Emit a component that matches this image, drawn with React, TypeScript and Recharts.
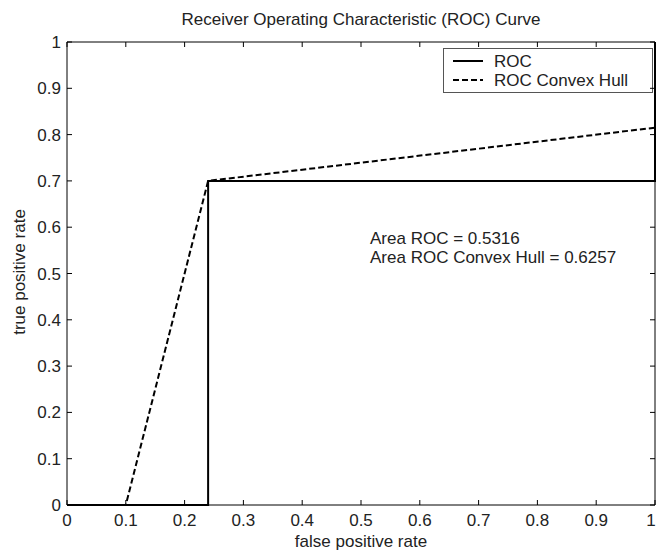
import React from 'react';
import { LineChart, Line, XAxis, YAxis, ReferenceLine, Customized } from 'recharts';

const rocFpr = [0, 0.24, 0.24, 1, 1];
const rocTpr = [0, 0, 0.7, 0.7, 1];
const hullFpr = [0, 0.1, 0.24, 1];
const hullTpr = [0, 0, 0.7, 0.815];
const ticks = [0, 0.1, 0.2, 0.3, 0.4, 0.5, 0.6, 0.7, 0.8, 0.9, 1];
const areaLines = ['Area ROC = 0.5316', 'Area ROC Convex Hull = 0.6257'];
const legendNames = ['ROC', 'ROC Convex Hull'];

const rocData = rocFpr.map((x, i) => ({ x, y: rocTpr[i] }));
const hullData = hullFpr.map((x, i) => ({ x, y: hullTpr[i] }));

const FONT = '"Liberation Sans", Arial, sans-serif';
const FS = 17;
const TXT = '#222';
const W = 657;
const H = 551;
const M = { top: 42, right: 2, bottom: 16, left: 27 };
const X_AXIS_H = 30;
const Y_AXIS_W = 40;
// plot box edges, from the margins above
const TOP = M.top;
const BOTTOM = H - M.bottom - X_AXIS_H;
const LEFT = M.left + Y_AXIS_W;
const RIGHT = W - M.right;
const TICK = 5;

const fmt = (v: number) => (v === 0 || v === 1 ? String(v) : v.toFixed(1));

// MATLAB style: ticks point inward on all four sides of the box
function XTick(props: any) {
  const { x, y, payload } = props;
  const lx = Math.min(x, W - 6);
  return (
    <g>
      <line x1={x} x2={x} y1={BOTTOM} y2={BOTTOM - TICK} stroke="#000" />
      <line x1={x} x2={x} y1={TOP} y2={TOP + TICK} stroke="#000" />
      <text x={lx} y={y} dy="0.71em" textAnchor="middle" fontSize={FS} fontFamily={FONT} fill={TXT}>
        {fmt(payload.value)}
      </text>
    </g>
  );
}

function YTick(props: any) {
  const { x, y, payload } = props;
  return (
    <g>
      <line x1={LEFT} x2={LEFT + TICK} y1={y} y2={y} stroke="#000" />
      <line x1={RIGHT} x2={RIGHT - TICK} y1={y} y2={y} stroke="#000" />
      <text x={x} y={y} dy="0.355em" textAnchor="end" fontSize={FS} fontFamily={FONT} fill={TXT}>
        {fmt(payload.value)}
      </text>
    </g>
  );
}

function Annotations() {
  return (
    <g fontFamily={FONT} fontSize={FS} fill={TXT}>
      <text x={361} y={25} textAnchor="middle">Receiver Operating Characteristic (ROC) Curve</text>
      <text x={361} y={547} textAnchor="middle">false positive rate</text>
      <text x={25} y={272} textAnchor="middle" transform="rotate(-90 25 272)">true positive rate</text>
      {areaLines.map((t, i) => (
        <text key={t} x={370} y={244 + i * 19}>{t}</text>
      ))}
      {/* legend box */}
      <g transform="translate(443,48)">
        <rect x={0.5} y={0.5} width={209} height={44} fill="#fff" stroke="#555" />
        {legendNames.map((n, i) => (
          <g key={n}>
            <line
              x1={10}
              x2={40}
              y1={13 + i * 19}
              y2={13 + i * 19}
              stroke="#000"
              strokeWidth={2}
              strokeDasharray={i === 1 ? '6 3' : undefined}
            />
            <text x={51} y={19 + i * 19}>{n}</text>
          </g>
        ))}
      </g>
    </g>
  );
}

export default function App() {
  return (
    <div style={{ position: 'absolute', left: 0, top: 0, background: '#fff' }}>
      <LineChart width={W} height={H} margin={M}>
        <XAxis
          type="number"
          dataKey="x"
          domain={[0, 1]}
          ticks={ticks}
          height={X_AXIS_H}
          tickSize={0}
          tickMargin={9}
          tickLine={false}
          stroke="#000"
          tick={<XTick />}
          interval={0}
          allowDuplicatedCategory={false}
        />
        <YAxis
          type="number"
          domain={[0, 1]}
          ticks={ticks}
          width={Y_AXIS_W}
          tickSize={0}
          tickMargin={6}
          tickLine={false}
          stroke="#000"
          tick={<YTick />}
          interval={0}
        />
        <ReferenceLine y={1} stroke="#000" />
        <ReferenceLine x={1} stroke="#000" />
        <Line
          data={rocData}
          dataKey="y"
          stroke="#000"
          strokeWidth={2}
          dot={false}
          type="linear"
          isAnimationActive={false}
        />
        <Line
          data={hullData}
          dataKey="y"
          stroke="#000"
          strokeWidth={2}
          strokeDasharray="6 3"
          dot={false}
          type="linear"
          isAnimationActive={false}
        />
        <Customized component={Annotations} />
      </LineChart>
    </div>
  );
}
